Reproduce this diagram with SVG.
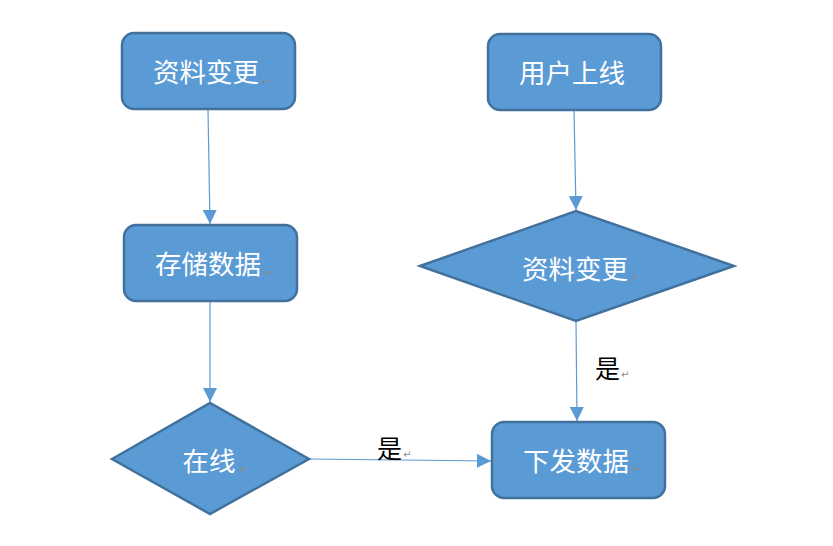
<svg xmlns="http://www.w3.org/2000/svg" width="833" height="546" viewBox="0 0 833 546">
<style>
.shape{fill:#5B9BD5;stroke:#41719C;stroke-width:2.5}
.t{fill:#ffffff;font-family:"Noto Sans CJK SC","Noto Sans CJK JP",sans-serif;font-size:26.5px;text-anchor:middle}
.pm{fill:#888888;font-family:"DejaVu Sans",sans-serif;font-size:10px}
.lbl{fill:#000000;font-family:"Noto Sans CJK SC",sans-serif;font-size:25px}
.c{stroke:#5B9BD5;stroke-width:1.2;fill:none}
</style>
<defs>
<marker id="ah" viewBox="0 0 10 10" refX="10" refY="5" markerWidth="14" markerHeight="14" markerUnits="userSpaceOnUse" orient="auto">
<path d="M0,0 L10,5 L0,10 Z" fill="#5B9BD5"/>
</marker>
</defs>
<rect width="833" height="546" fill="#ffffff"/>
<g id="connectors">
<line class="c" x1="208" y1="110" x2="210" y2="224" marker-end="url(#ah)"/>
<line class="c" x1="574" y1="111" x2="576" y2="210" marker-end="url(#ah)"/>
<line class="c" x1="210" y1="302" x2="210" y2="402" marker-end="url(#ah)"/>
<line class="c" x1="576" y1="322" x2="577" y2="421" marker-end="url(#ah)"/>
<line class="c" x1="309" y1="459" x2="491" y2="461" marker-end="url(#ah)"/>
<text class="lbl" x="595" y="378">是</text><text class="pm" x="621" y="378">↵</text>
<text class="lbl" x="377" y="458">是</text><text class="pm" x="403" y="458">↵</text>
</g>
<g id="n1">
<rect class="shape" x="122" y="33" width="173" height="76" rx="12"/>
<text class="t" x="206" y="82">资料变更</text><text class="pm" x="262" y="85">↵</text>
</g>
<g id="n2">
<rect class="shape" x="488" y="34" width="173" height="76" rx="12"/>
<text class="t" x="572" y="83">用户上线</text>
</g>
<g id="n3">
<rect class="shape" x="124" y="225" width="173" height="76" rx="12"/>
<text class="t" x="208" y="274">存储数据</text><text class="pm" x="264" y="277">↵</text>
</g>
<g id="n4">
<polygon class="shape" points="420,266 576,211 734,266 576,321"/>
<text class="t" x="575" y="279">资料变更</text><text class="pm" x="631" y="281">↵</text>
</g>
<g id="n5">
<polygon class="shape" points="112,459 210,403 309,459 210,514"/>
<text class="t" x="209" y="471">在线</text><text class="pm" x="239" y="473">↵</text>
</g>
<g id="n6">
<rect class="shape" x="492" y="422" width="173" height="76" rx="12"/>
<text class="t" x="576" y="471">下发数据</text><text class="pm" x="632" y="473">↵</text>
</g>
</svg>
